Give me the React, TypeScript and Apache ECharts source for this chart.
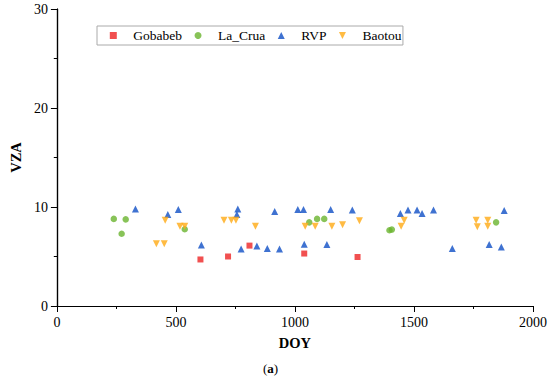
import React, { useEffect, useRef } from "react";
import * as echarts from "echarts";

// [DOY, VZA]
const gobabeb: number[][] = [
  [603, 4.7], [719, 5.0], [809, 6.1], [1039, 5.3], [1263, 4.95],
];
const laCrua: number[][] = [
  [239, 8.8], [289, 8.75], [272, 7.3], [537, 7.75], [1060, 8.45], [1093, 8.8],
  [1123, 8.8], [1397, 7.65], [1407, 7.72], [1845, 8.45],
];
const rvp: number[][] = [
  [330, 9.8], [466, 9.25], [510, 9.75], [607, 6.15], [756, 9.25], [760, 9.8],
  [774, 5.75], [840, 6.05], [884, 5.8], [915, 9.55], [935, 5.75], [1012, 9.75],
  [1036, 9.75], [1039, 6.25], [1134, 6.2], [1150, 9.75], [1241, 9.7], [1443, 9.35],
  [1475, 9.7], [1513, 9.7], [1534, 9.35], [1582, 9.7], [1661, 5.8], [1816, 6.2],
  [1867, 5.95], [1879, 9.65],
];
const baotou: number[][] = [
  [418, 6.3], [451, 6.3], [455, 8.65], [517, 8.05], [537, 8.05], [702, 8.65],
  [733, 8.65], [752, 8.65], [834, 8.05], [1043, 8.05], [1085, 8.05], [1155, 8.05],
  [1200, 8.2], [1271, 8.6], [1446, 8.05], [1459, 8.65], [1761, 8.65], [1766, 8.0],
  [1810, 8.65], [1810, 8.05],
];
const seriesNames = ["Gobabeb", "La_Crua", "RVP", "Baotou"];
const xTicks = { min: 0, max: 2000, interval: 500 };
const yTicks = { min: 0, max: 30, interval: 10 };

const FONT = "Liberation Serif";
const DOWN_TRIANGLE = "path://M0,0L10,0L5,10Z";

export default function App() {
  const ref = useRef<HTMLDivElement>(null);
  useEffect(() => {
    if (!ref.current) return;
    const chart = echarts.init(ref.current, undefined, { renderer: "svg" });
    const axisLine = { show: true, lineStyle: { color: "#000", width: 1.2 } };
    const fmt = (v: number) => String(v);
    chart.setOption({
      animation: false,
      backgroundColor: "#fff",
      textStyle: { fontFamily: FONT },
      grid: { left: 48, right: 17, top: 9, bottom: 76, containLabel: false },
      legend: {
        left: 97,
        top: 26,
        padding: [2.5, 1.5, 2.5, 12.8],
        itemGap: 12.5,
        itemWidth: 7,
        itemHeight: 7,
        symbolKeepAspect: true,
        borderColor: "#aaa",
        borderWidth: 1,
        textStyle: { fontFamily: FONT, fontSize: 13.5, color: "#000", padding: [0, 0, 0, 11.5] },
        data: [
          { name: seriesNames[0] },
          { name: seriesNames[1] },
          { name: seriesNames[2] },
          { name: seriesNames[3], icon: DOWN_TRIANGLE },
        ],
      },
      xAxis: [
        {
          type: "value",
          min: xTicks.min,
          max: xTicks.max,
          interval: xTicks.interval,
          name: "DOY",
          nameLocation: "middle",
          nameGap: 29,
          nameTextStyle: { fontFamily: FONT, fontSize: 14.5, fontWeight: "bold", color: "#000" },
          axisLine,
          axisTick: { show: true, length: 6, lineStyle: { color: "#000" } },
          minorTick: { show: true, splitNumber: 2, length: 3, lineStyle: { color: "#000" } },
          splitLine: { show: false },
          axisLabel: { fontFamily: FONT, fontSize: 14, color: "#000", margin: 9, formatter: fmt },
        },
        {
          type: "value",
          position: "top",
          min: xTicks.min,
          max: xTicks.max,
          interval: xTicks.interval,
          axisLine,
          axisTick: { show: true, inside: true, length: 5, lineStyle: { color: "#000" } },
          minorTick: { show: true, splitNumber: 2, length: 3, lineStyle: { color: "#000" } },
          splitLine: { show: false },
          axisLabel: { show: false },
        },
      ],
      yAxis: [
        {
          type: "value",
          min: yTicks.min,
          max: yTicks.max,
          interval: yTicks.interval,
          name: "VZA",
          nameLocation: "middle",
          nameGap: 31,
          nameRotate: 90,
          nameTextStyle: { fontFamily: FONT, fontSize: 14.5, fontWeight: "bold", color: "#000" },
          axisLine,
          axisTick: { show: true, length: 6, lineStyle: { color: "#000" } },
          minorTick: { show: true, splitNumber: 2, length: 3, lineStyle: { color: "#000" } },
          splitLine: { show: false },
          axisLabel: { fontFamily: FONT, fontSize: 14, color: "#000", margin: 9, formatter: fmt },
        },
        {
          type: "value",
          position: "right",
          min: yTicks.min,
          max: yTicks.max,
          interval: yTicks.interval,
          axisLine,
          axisTick: { show: true, inside: true, length: 5, lineStyle: { color: "#000" } },
          minorTick: { show: true, splitNumber: 2, length: 3, lineStyle: { color: "#000" } },
          splitLine: { show: false },
          axisLabel: { show: false },
        },
      ],
      graphic: [
        {
          type: "text",
          left: 263,
          top: 362,
          style: {
            text: "({b|a})",
            fontFamily: FONT,
            fontSize: 13,
            fill: "#000",
            rich: { b: { fontWeight: "bold", fontSize: 13, fontFamily: FONT } },
          },
        },
      ],
      series: [
        {
          name: seriesNames[0],
          type: "scatter",
          data: gobabeb,
          symbol: "rect",
          symbolSize: 6,
          symbolKeepAspect: true,
          itemStyle: { color: "#ee2424" },
        },
        {
          name: seriesNames[1],
          type: "scatter",
          data: laCrua,
          symbol: "circle",
          symbolSize: 6.5,
          symbolKeepAspect: true,
          itemStyle: { color: "#6ab42e" },
        },
        {
          name: seriesNames[2],
          type: "scatter",
          data: rvp,
          symbol: "triangle",
          symbolSize: 7,
          symbolKeepAspect: true,
          itemStyle: { color: "#0f4fc6" },
        },
        {
          name: seriesNames[3],
          type: "scatter",
          data: baotou,
          symbol: "triangle",
          symbolRotate: 180,
          symbolSize: 7,
          symbolKeepAspect: true,
          itemStyle: { color: "#ffaa14" },
        },
      ],
    });
    return () => chart.dispose();
  }, []);
  return <div ref={ref} style={{ width: 550, height: 382, position: "absolute", left: 0, top: 0 }} />;
}
